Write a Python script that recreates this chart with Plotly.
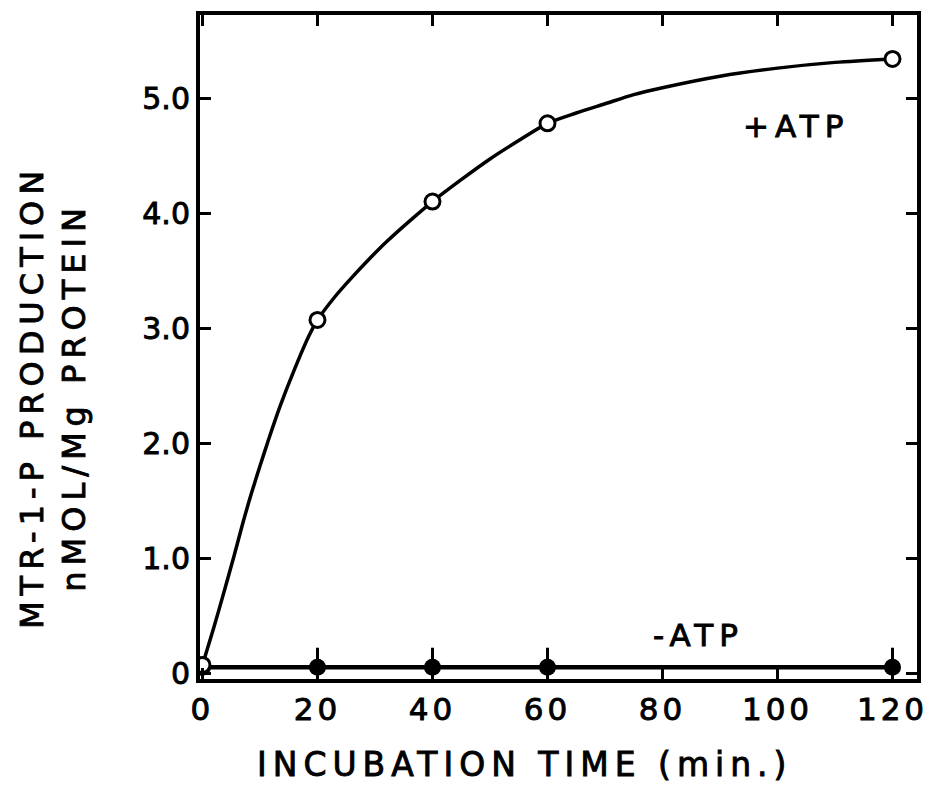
import plotly.graph_objects as go

# ---- data ----
time_plus = [0, 20, 40, 60, 120]
prod_plus = [0.07, 3.07, 4.10, 4.78, 5.34]

time_minus = [0, 20, 40, 60, 120]
prod_minus = [0.05, 0.05, 0.05, 0.05, 0.05]
err_minus = [0.0, 0.17, 0.17, 0.17, 0.17]

# hand-drawn fitted curve through the +ATP points
fit_time = [0, 2, 4, 5.5, 7, 8.5, 10, 11.5, 13.5, 16, 18.5, 20, 23, 26, 29, 32,
            36, 40, 45, 50, 55, 60, 65, 70, 75, 80, 90, 100, 110, 120]
fit_prod = [0.07, 0.40, 0.75, 1.02, 1.30, 1.56, 1.80, 2.03, 2.32, 2.64, 2.93,
            3.07, 3.27, 3.44, 3.60, 3.75, 3.93, 4.10, 4.29, 4.47, 4.63, 4.78,
            4.87, 4.95, 5.03, 5.09, 5.19, 5.26, 5.31, 5.34]

x_tickvals = [0, 20, 40, 60, 80, 100, 120]
x_ticktext = ["0", "20", "40", "60", "80", "100", "120"]
y_tickvals = [0, 1, 2, 3, 4, 5]
y_ticktext = ["0", "1.0", "2.0", "3.0", "4.0", "5.0"]

x_title = "INCUBATION TIME (min.)"
y_title = "MTR-1-P PRODUCTION<br>nMOL/Mg PROTEIN"
label_plus = "+ATP"
label_minus = "-ATP"

FONT = "DejaVu Sans"

fig = go.Figure()

fig.add_trace(go.Scatter(
    x=time_minus, y=prod_minus, mode="lines+markers", name="-ATP",
    line=dict(color="black", width=4.5),
    marker=dict(color="black", size=17, symbol="circle"),
    error_y=dict(type="data", symmetric=True, array=err_minus, visible=True,
                 width=0, thickness=3, color="black"),
))

fig.add_trace(go.Scatter(
    x=fit_time, y=fit_prod, mode="lines", name="+ATP fit",
    line=dict(color="black", width=3.5, shape="spline", smoothing=0.8),
))

fig.add_trace(go.Scatter(
    x=time_plus, y=prod_plus, mode="markers", name="+ATP",
    marker=dict(color="white", size=15, symbol="circle",
                line=dict(color="black", width=3)),
))

axis_common = dict(
    showline=True, linewidth=4, linecolor="black", mirror="ticks",
    ticks="inside", ticklen=11, tickwidth=3, tickcolor="black",
    showgrid=False, zeroline=False,
)

fig.update_xaxes(range=[-0.43, 124.26], tickmode="array",
                 tickvals=x_tickvals, ticktext=x_ticktext,
                 tickfont=dict(family=FONT, size=31, color="black"),
                 ticklabelstandoff=0, **axis_common)
fig.update_yaxes(range=[-0.052, 5.722], tickmode="array",
                 tickvals=y_tickvals, ticktext=y_ticktext,
                 tickfont=dict(family=FONT, size=30, color="black"),
                 ticklabelstandoff=0, **axis_common)

fig.add_annotation(text=x_title, xref="paper", yref="paper",
                   x=0.453, y=-0.1295, xanchor="center", yanchor="middle",
                   showarrow=False,
                   font=dict(family=FONT, size=33, color="black"))
fig.add_annotation(text=y_title, xref="paper", yref="paper",
                   x=-0.205, y=0.4247, xanchor="center", yanchor="middle",
                   textangle=-90, showarrow=False, align="center",
                   font=dict(family=FONT, size=32, color="black"))
fig.add_annotation(text=label_plus, xref="x", yref="y", x=103.3, y=4.76,
                   xanchor="center", yanchor="middle", showarrow=False,
                   font=dict(family=FONT, size=31, color="black"))
fig.add_annotation(text=label_minus, xref="x", yref="y", x=86.3, y=0.33,
                   xanchor="center", yanchor="middle", showarrow=False,
                   font=dict(family=FONT, size=31, color="black"))

fig.update_layout(
    width=937, height=797,
    margin=dict(l=200, r=20, t=15, b=118),
    paper_bgcolor="white", plot_bgcolor="white",
    showlegend=False,
)

css_js = """
var st = document.createElement('style');
st.textContent = '.annotation-text{letter-spacing:6px;stroke:#000;stroke-width:0.9px;}'
  + ' .xtick text{letter-spacing:4px;stroke:#000;stroke-width:0.9px;}'
  + ' .ytick text{stroke:#000;stroke-width:0.9px;}';
document.head.appendChild(st);
"""

fig.write_html("out.html", post_script=css_js)
